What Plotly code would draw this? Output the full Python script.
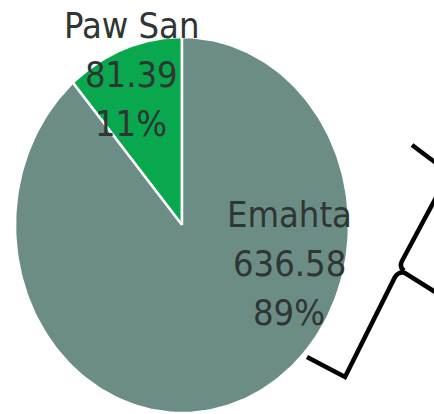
import numpy as np
import plotly.graph_objects as go

# ---- data ----
labels = ["Paw San", "Emahta"]
values = [81.39, 636.58]
colors = ["#0aa84e", "#6c8d85"]

# ---- geometry (pixel-like axis space) ----
W, H = 434, 414
cx, cy = 182, 225
rx, ry = 167, 188

total = sum(values)
fig = go.Figure()

start = 90.0  # degrees, 12 o'clock, counterclockwise
for lab, val, col in zip(labels, values, colors):
    sweep = val / total * 360.0
    th = np.radians(np.linspace(start, start + sweep, 200))
    xs = np.concatenate([[cx], cx + rx * np.cos(th), [cx]])
    ys = np.concatenate([[cy], cy - ry * np.sin(th), [cy]])
    fig.add_trace(go.Scatter(x=xs, y=ys, mode="lines", fill="toself",
                             fillcolor=col, line=dict(color="white", width=2.5),
                             hoverinfo="skip", showlegend=False))
    start += sweep

# ---- labels ----
font = dict(family="DejaVu Sans Condensed, DejaVu Sans", size=36, color="#2e3533")
label_pos = {"Paw San": (131, 25), "Emahta": (289, 214)}
line_gap = 49
for lab, val in zip(labels, values):
    x0, y0 = label_pos[lab]
    lines = [lab, f"{val:.2f}", f"{val / total * 100:.0f}%"]
    for i, t in enumerate(lines):
        fig.add_annotation(x=x0, y=y0 + i * line_gap, xref="x", yref="y",
                           text=t, showarrow=False, font=font,
                           xanchor="center", yanchor="middle")

# ---- decorative bracket ----
bk = dict(color="black", width=4.5)
fig.add_shape(type="path", xref="x", yref="y", line=bk,
              path="M307,357 L345,377 L395,277 Q399,271 405,273 L440,295")
fig.add_shape(type="path", xref="x", yref="y", line=bk,
              path="M440,190 L402,261 Q399,267 404,271")
fig.add_shape(type="path", xref="x", yref="y", line=bk,
              path="M412,145 L440,166")

fig.update_xaxes(range=[0, W], visible=False, fixedrange=True)
fig.update_yaxes(range=[H, 0], visible=False, fixedrange=True)
fig.update_layout(width=W, height=H, margin=dict(l=0, r=0, t=0, b=0),
                  paper_bgcolor="white", plot_bgcolor="white", hovermode=False)

fig.write_html("out.html", config={"displayModeBar": False, "staticPlot": True},
               post_script="document.body.style.margin='0';document.body.style.overflow='hidden';")
